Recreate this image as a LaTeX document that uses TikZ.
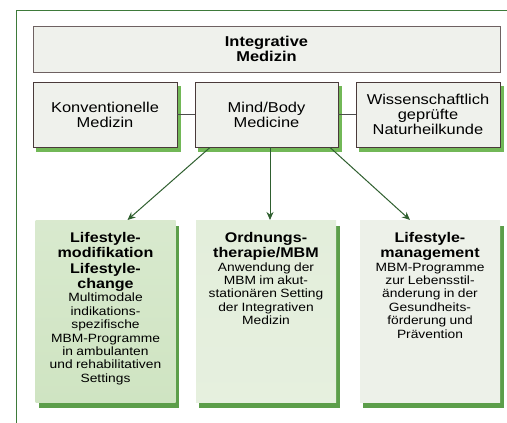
\documentclass[tikz,border=0pt]{standalone}
\usepackage{fontspec}
\setmainfont[FakeStretch=1.15]{Liberation Sans}
\usetikzlibrary{arrows.meta,backgrounds}
\definecolor{framegreen}{HTML}{3E7A3A}
\definecolor{shadowgreen}{HTML}{72B857}
\definecolor{darkshadow}{HTML}{5C9E4A}
\definecolor{boxborder}{HTML}{4A3A3A}
\definecolor{boxfill}{HTML}{EFF1EC}
\definecolor{arrowgreen}{HTML}{2F5F2F}
\definecolor{fillA}{HTML}{CFE4C2}
\definecolor{fillB}{HTML}{E3EEDB}
\definecolor{fillC}{HTML}{EDF1E9}
\tikzset{
  topbox/.style={draw=boxborder!80, line width=0.9pt, fill=boxfill, minimum width=467pt, minimum height=46pt, inner sep=0pt, align=center, font=\fontsize{14.3}{15}\selectfont\bfseries},
  midbox/.style={draw=boxborder, line width=0.9pt, fill=boxfill, minimum width=144pt, minimum height=65pt, inner sep=0pt, align=center, font=\fontsize{14.3}{15}\selectfont},
  lowbox/.style={minimum width=140pt, minimum height=182pt, inner sep=0pt, anchor=north},
  lowtext/.style={anchor=north, align=center, text width=136pt, inner sep=0pt},
  shadowA/.style={fill=shadowgreen},
  shadowB/.style={fill=darkshadow},
  link/.style={draw=black!70, line width=0.8pt},
  arr/.style={draw=arrowgreen, line width=1pt, -{Stealth[length=8pt,width=7pt]}},
}
\newcommand{\hd}[1]{{\fontsize{14}{15.4}\selectfont\bfseries #1\par}}
\newcommand{\bd}[1]{{\fontsize{12}{13.4}\selectfont #1\par}}
\begin{document}
\begin{tikzpicture}[x=1pt,y=-1pt]
\useasboundingbox (0,0) rectangle (507,423);
% outer frame
\draw[framegreen, line width=1pt] (16,423) -- (16,10) -- (507,10);
% top
\node[topbox] (integ) at (266.5,49) {Integrative\\Medizin};
% middle row
\node[midbox] (konv) at (105,114.5) {Konventionelle\\Medizin};
\node[midbox, minimum width=143pt] (mbm) at (266.5,114.5) {Mind/Body\\Medicine};
\node[midbox] (wiss) at (428,114.5) {Wissenschaftlich\\geprüfte\\Naturheilkunde};
\draw[link] (konv.east) -- (mbm.west);
\draw[link] (mbm.east) -- (wiss.west);
% bottom boxes
\node[lowbox, top color=fillA!80!white, bottom color=fillA] (lsm) at (105.5,220) {};
\node[lowbox, top color=fillB, bottom color=fillB!90!white] (ord) at (266,220) {};
\node[lowbox, top color=fillC, bottom color=fillC] (lsg) at (430,220) {};
\begin{scope}[on background layer]
  \fill[white] (0,0) rectangle (507,423);
  \foreach \n in {konv,mbm,wiss}{
    \fill[shadowA] ([shift={(3.5,4.5)}]\n.north west) rectangle ([shift={(3.5,4.5)}]\n.south east);
  }
  \foreach \n in {lsm,ord,lsg}{
    \fill[shadowB] ([shift={(3.5,5.5)}]\n.north west) rectangle ([shift={(3.5,5.5)}]\n.south east);
  }
\end{scope}
\node[lowtext] (lsmtext) at ([yshift=-12pt]lsm.north) {\hd{Lifestyle-\\modifikation\\Lifestyle-\\change}\bd{Multimodale\\indikations-\\spezifische\\MBM-Programme\\in ambulanten\\und rehabilitativen\\Settings}};
\node[lowtext] (ordtext) at ([yshift=-12pt]ord.north) {\hd{Ordnungs-\\therapie/MBM}\bd{Anwendung der\\MBM im akut-\\stationären Setting\\der Integrativen\\Medizin}};
\node[lowtext] (lsgtext) at ([yshift=-12pt]lsg.north) {\hd{Lifestyle-\\management}\bd{MBM-Programme\\zur Lebensstil-\\änderung in der\\Gesundheits-\\förderung und\\Prävention}};
% arrows
\draw[arr] ([xshift=-56.5pt]mbm.south) -- ([xshift=22pt]lsm.north);
\draw[arr] ([xshift=3.5pt]mbm.south) -- ([xshift=4pt]ord.north);
\draw[arr] ([xshift=63.5pt]mbm.south) -- ([xshift=-20pt]lsg.north);
\end{tikzpicture}
\end{document}
